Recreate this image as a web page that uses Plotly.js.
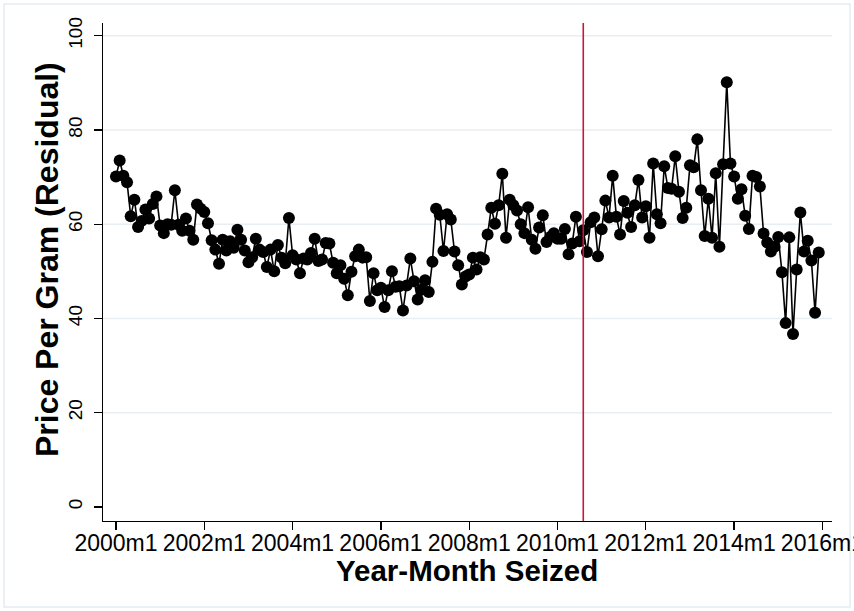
<!DOCTYPE html>
<html><head><meta charset="utf-8">
<script src="https://cdn.plot.ly/plotly-3.0.1.min.js"></script>
<style>html,body{margin:0;padding:0;background:#fff}#chart{width:854px;height:611px}</style>
</head><body><div id="chart"></div><script>
// Monthly series, 2000m1 .. 2015m12
const startYear = 2000;
const pricePerGram = [
70.1,73.5,70.3,68.9,61.7,65.2,59.4,60.7,63.1,61.2,64.3,65.9,
59.7,58.1,60.0,59.9,67.2,59.9,58.6,61.2,58.6,56.7,64.2,63.3,
62.6,60.2,56.6,54.6,51.6,56.7,54.4,56.4,55.0,58.8,56.7,54.4,
51.9,53.0,56.9,54.6,54.1,50.9,54.6,50.0,55.6,52.9,51.7,61.3,
53.4,52.5,49.6,52.7,52.5,53.9,56.9,52.2,52.5,56.0,55.9,51.8,
49.6,51.3,48.4,44.9,49.9,53.2,54.6,52.9,53.0,43.7,49.6,46.0,
46.5,42.4,46.0,50.0,46.7,46.8,41.7,47.0,52.7,47.9,44.0,46.1,
48.1,45.6,52.0,63.3,62.0,54.3,62.1,61.0,54.2,51.3,47.2,48.9,
49.3,52.9,50.4,53.0,52.5,57.8,63.5,60.1,64.0,70.7,57.1,65.2,
64.0,62.9,60.0,58.1,63.6,56.7,54.8,59.3,61.9,56.2,57.3,58.1,
56.9,56.9,59.0,53.6,55.9,61.6,56.4,58.7,54.1,60.4,61.4,53.2,
58.9,65.0,61.4,70.3,61.6,57.8,64.9,62.4,59.4,64.0,69.4,61.4,
63.8,57.1,72.9,62.1,60.2,72.3,67.7,67.5,74.4,66.9,61.3,63.5,
72.5,72.1,78.0,67.2,57.5,65.4,57.1,70.8,55.2,72.7,90.1,72.9,
70.1,65.4,67.4,61.8,59.0,70.3,70.0,68.0,58.0,56.1,54.2,55.2,
57.3,49.8,39.0,57.2,36.7,50.4,62.5,54.2,56.5,52.3,41.2,54.0
];
const tickLabels = ["2000m1","2002m1","2004m1","2006m1","2008m1","2010m1","2012m1","2014m1","2016m1"];
const yTickVals = [0,20,40,60,80,100];
const gridVals = [20,40,60,80,100];
const cutoffMonth = "2010m8";
const xTitle = "Year-Month Seized";
const yTitle = "Price Per Gram (Residual)";

// month labels and their positions on the monthly axis
const monthLabels = pricePerGram.map((_, i) => (startYear + Math.floor(i / 12)) + "m" + (i % 12 + 1));
const monthIndex = pricePerGram.map((_, i) => i);
const labelToIndex = s => { const p = s.split("m"); return (parseInt(p[0]) - startYear) * 12 + parseInt(p[1]) - 1; };
const tickVals = tickLabels.map(labelToIndex);
const cutoffX = labelToIndex(cutoffMonth);

const FONT = "Liberation Sans, Arial, Helvetica, sans-serif";

const trace = {
  x: monthIndex, y: pricePerGram, text: monthLabels,
  type: "scatter", mode: "lines+markers",
  line: {color: "#000000", width: 1.6},
  marker: {color: "#000000", size: 12},
  hoverinfo: "text+y", showlegend: false
};

const shapes = gridVals.map(v => ({
  type: "line", xref: "paper", yref: "y", x0: 0, x1: 1, y0: v, y1: v,
  line: {color: "#e8eef1", width: 1.5}, layer: "below"
}));
shapes.push({
  type: "line", xref: "x", yref: "paper", x0: cutoffX, x1: cutoffX, y0: 0, y1: 1,
  line: {color: "#c8173f", width: 1.6}, layer: "above"
});
shapes.push({
  type: "rect", xref: "paper", yref: "paper", x0: -0.1358, x1: 1.0247, y0: -0.1727, y1: 1.0382,
  line: {color: "#e4ecf0", width: 1.5}, fillcolor: "rgba(0,0,0,0)", layer: "below"
});

const layout = {
  width: 854, height: 611,
  margin: {l: 103, r: 22, t: 23, b: 90},
  paper_bgcolor: "#ffffff", plot_bgcolor: "#ffffff",
  font: {family: FONT, color: "#000000"},
  xaxis: {
    range: [-3.53, 194.6], tickvals: tickVals, ticktext: tickLabels,
    ticks: "outside", ticklen: 8, tickwidth: 1.3, tickcolor: "#000",
    showline: true, linecolor: "#000", linewidth: 1.3,
    showgrid: false, zeroline: false,
    ticklabeloverflow: "allow", ticklabelstandoff: -7,
    tickfont: {family: FONT, size: 23, color: "#000"}
  },
  yaxis: {
    range: [-3.0, 102.7], tickvals: yTickVals,
    tickangle: -90,
    ticks: "outside", ticklen: 8, tickwidth: 1.3, tickcolor: "#000",
    showline: true, linecolor: "#000", linewidth: 1.3,
    showgrid: false, zeroline: false,
    ticklabelstandoff: 4,
    tickfont: {family: FONT, size: 19, color: "#000"}
  },
  annotations: [
    {text: "<b>" + xTitle + "</b>", xref: "paper", yref: "paper", x: 0.4993, y: -0.0984,
     xanchor: "center", yanchor: "middle", showarrow: false,
     font: {family: FONT, size: 29.5, color: "#000"}},
    {text: "<b>" + yTitle + "</b>", xref: "paper", yref: "paper", x: -0.0768, y: 0.524,
     xanchor: "center", yanchor: "middle", showarrow: false, textangle: -90,
     font: {family: FONT, size: 32, color: "#000"}}
  ],
  shapes: shapes
};

Plotly.newPlot("chart", [trace], layout, {displayModeBar: false, staticPlot: true});
</script></body></html>
